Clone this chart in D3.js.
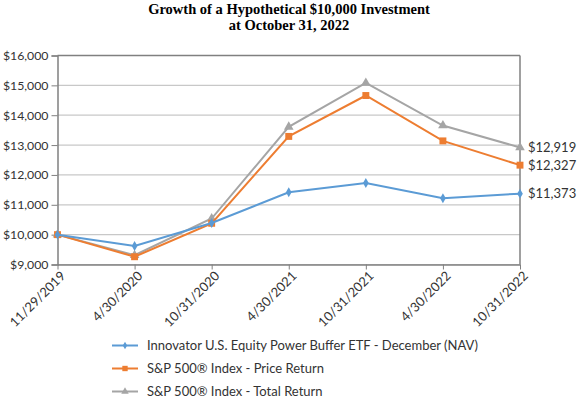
<!DOCTYPE html>
<html><head><meta charset="utf-8">
<script src="https://cdn.jsdelivr.net/npm/d3@7"></script>
<style>body{margin:0;background:#fff}svg{display:block}</style>
</head><body>
<svg id="c" width="578" height="400"></svg>
<script>
const categories = ["11/29/2019","4/30/2020","10/31/2020","4/30/2021","10/31/2021","4/30/2022","10/31/2022"];
const etfValues   = [10000, 9620, 10390, 11420, 11730, 11220, 11373];
const priceValues = [10000, 9260, 10380, 13290, 14660, 13140, 12327];
const totalValues = [10000, 9310, 10540, 13610, 15080, 13655, 12919];
const seriesNames = ["Innovator U.S. Equity Power Buffer ETF - December (NAV)","S&P 500® Index - Price Return","S&P 500® Index - Total Return"];
const yTicks = [9000,10000,11000,12000,13000,14000,15000,16000];
const endLabels = ["$11,373","$12,327","$12,919"];

const colors = ["#5B9BD5","#ED7D31","#A5A5A5"];
const series = [etfValues, priceValues, totalValues];
const svg = d3.select("#c");
const L = 57.5, R = 520, T = 55.5, B = 264.5;
const font = "Lato, 'Open Sans', sans-serif";
const serif = "'Liberation Serif', 'Times New Roman', serif";

svg.append("text").attr("x",289).attr("y",14).attr("text-anchor","middle")
  .style("font-family",serif).style("font-weight","bold").style("font-size","14.5px")
  .text("Growth of a Hypothetical $10,000 Investment");
svg.append("text").attr("x",289).attr("y",29.5).attr("text-anchor","middle")
  .style("font-family",serif).style("font-weight","bold").style("font-size","14.5px")
  .text("at October 31, 2022");

const x = d3.scalePoint().domain(categories).range([L,R]);
const y = d3.scaleLinear().domain([9000,16000]).range([B,T]);

// gridlines
svg.append("g").selectAll("line").data(yTicks).join("line")
  .attr("x1",L).attr("x2",R).attr("y1",d=>y(d)).attr("y2",d=>y(d))
  .attr("stroke",d=> d===16000 ? "#808080" : "#C8C8C8").attr("stroke-width",d=>d===16000?1.5:1.2);
// right border
svg.append("line").attr("x1",R).attr("x2",R).attr("y1",T).attr("y2",B).attr("stroke","#808080").attr("stroke-width",1.5);

// y axis
const ya = svg.append("g").attr("transform",`translate(${L},0)`)
  .call(d3.axisLeft(y).tickValues(yTicks).tickFormat(d=>"$"+d3.format(",")(d)).tickSize(6).tickPadding(3));
ya.select(".domain").attr("stroke","#808080").attr("stroke-width",1.5);
ya.selectAll(".tick line").attr("stroke","#808080");
ya.selectAll("text").style("font-family",font).style("font-size","12.3px").attr("fill","#333");

// x axis
const xa = svg.append("g").attr("transform",`translate(0,${B})`)
  .call(d3.axisBottom(x).tickSize(5).tickSizeOuter(0));
xa.select(".domain").attr("stroke","#808080").attr("stroke-width",1.5);
xa.selectAll(".tick line").attr("stroke","#808080");
xa.selectAll("text").style("font-family",font).style("font-size","13px").attr("fill","#333")
  .attr("text-anchor","end").attr("transform","translate(5,9) rotate(-45)").attr("dy","0.35em").attr("y",0).attr("x",0);

// lines
const line = d3.line().x((d,i)=>x(categories[i])).y(d=>y(d));
const symbols = [d3.symbolDiamond, d3.symbolSquare, d3.symbolTriangle];
const sizes = [28, 48, 40];
[2,1,0].forEach(k=>{
  svg.append("path").datum(series[k]).attr("d",line).attr("fill","none")
    .attr("stroke",colors[k]).attr("stroke-width",2);
  svg.append("g").selectAll("path").data(series[k]).join("path")
    .attr("transform",(d,i)=>`translate(${x(categories[i])},${y(d)})`)
    .attr("d",d3.symbol().type(symbols[k]).size(sizes[k])).attr("fill",colors[k]);
});

// end labels
[0,1,2].forEach(k=>{
  svg.append("text").attr("x",R+8).attr("y",y(series[k][series[k].length-1])).attr("dy","0.35em")
    .style("font-family",font).style("font-size","13px").attr("fill","#333").text(endLabels[k]);
});

// legend
const lg = svg.append("g");
[0,1,2].forEach(k=>{
  const yy = 345.5 + k*23;
  lg.append("line").attr("x1",112).attr("x2",138).attr("y1",yy).attr("y2",yy).attr("stroke",colors[k]).attr("stroke-width",2);
  lg.append("path").attr("transform",`translate(125,${yy})`).attr("d",d3.symbol().type(symbols[k]).size(sizes[k]*0.6)).attr("fill",colors[k]);
  lg.append("text").attr("x",147).attr("y",yy).attr("dy","0.35em")
    .style("font-family",font).style("font-size","13px").attr("fill","#333").text(seriesNames[k]);
});
</script>
</body></html>
